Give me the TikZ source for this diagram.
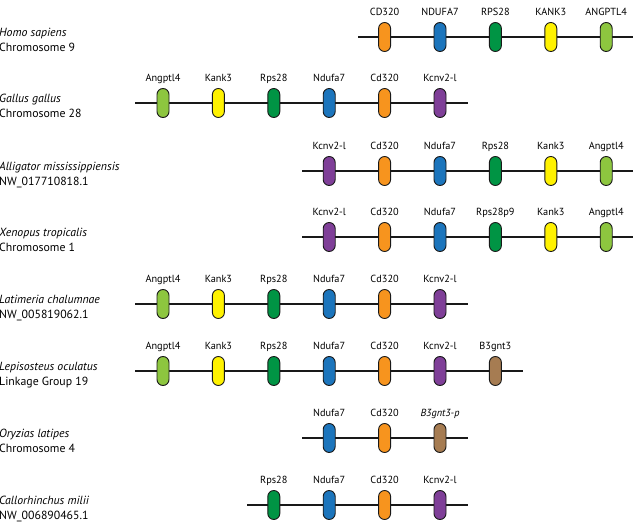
\documentclass[tikz,border=0pt]{standalone}
\usepackage{fontspec}
\setmainfont{PT Sans}
\usetikzlibrary{positioning}
\definecolor{genorange}{RGB}{247,148,30}
\definecolor{genblue}{RGB}{28,117,188}
\definecolor{gengreen}{RGB}{0,148,68}
\definecolor{genyellow}{RGB}{255,242,0}
\definecolor{genlime}{RGB}{141,198,63}
\definecolor{genpurple}{RGB}{127,63,152}
\definecolor{genbrown}{RGB}{166,124,82}
\tikzset{
    chrom line/.style={line width=1.7pt, black!90},
    gene/.style={draw=black!90, line width=.9pt, fill=#1, rounded corners=6pt,
        minimum width=12pt, minimum height=29pt, inner sep=0pt},
    gene label/.style={font=\fontsize{10.3}{12}\selectfont, inner sep=0pt,
        text height=7.5pt, text depth=2.5pt},
    species/.style={anchor=base west, inner sep=0pt, font=\fontsize{11.8}{14}\selectfont},
}
\newcommand{\slotx}[1]{163+55.4*#1}

\begin{document}
\begin{tikzpicture}[x=1pt,y=-1pt]
        \useasboundingbox (0,0) rectangle (633,526);
        % chromosome lines
        \foreach \sp/\y/\from/\to in {hs/37/358/634, gg/103/135/468, am/171/302/634,
            xt/237/302/634, lc/304/135/468, lo/371/135/523, ol/438/302/468, cm/505/247/468}{
            \coordinate (\sp-a) at (\from,\y);
            \coordinate (\sp-b) at (\to,\y);
            \draw[chrom line] (\sp-a) -- (\sp-b);
        }
        % species
        \foreach \sp/\y/\name/\chr in {hs/37/Homo sapiens/Chromosome 9,
            gg/103/Gallus gallus/Chromosome 28,
            am/171/Alligator mississippiensis/NW\_017710818.1,
            xt/237/Xenopus tropicalis/Chromosome 1,
            lc/304/Latimeria chalumnae/NW\_005819062.1,
            lo/371/Lepisosteus oculatus/Linkage Group 19,
            ol/438/Oryzias latipes/Chromosome 4,
            cm/505/Callorhinchus milii/NW\_006890465.1}{
            \node[species] (\sp-name) at (-1,\y) {\itshape\name};
            \node[species] (\sp-chr) at (-1,\y+15) {\chr};
        }
        % genes
        \foreach \s/\c/\g [count=\i] in {4/genorange/CD320, 5/genblue/NDUFA7,
            6/gengreen/RPS28, 7/genyellow/KANK3, 8/genlime/ANGPTL4}{
            \node[gene=\c] (hs\i) at (\slotx{\s},37) {};
            \node[gene label, above=3.5pt of hs\i] (hs\i-l) {\g};
        }
        \foreach \s/\c/\g [count=\i] in {0/genlime/Angptl4, 1/genyellow/Kank3,
            2/gengreen/Rps28, 3/genblue/Ndufa7, 4/genorange/Cd320, 5/genpurple/Kcnv2-l}{
            \node[gene=\c] (gg\i) at (\slotx{\s},103) {};
            \node[gene label, above=3.5pt of gg\i] (gg\i-l) {\g};
        }
        \foreach \s/\c/\g [count=\i] in {3/genpurple/Kcnv2-l, 4/genorange/Cd320,
            5/genblue/Ndufa7, 6/gengreen/Rps28, 7/genyellow/Kank3, 8/genlime/Angptl4}{
            \node[gene=\c] (am\i) at (\slotx{\s},171) {};
            \node[gene label, above=3.5pt of am\i] (am\i-l) {\g};
        }
        \foreach \s/\c/\g [count=\i] in {3/genpurple/Kcnv2-l, 4/genorange/Cd320,
            5/genblue/Ndufa7, 6/gengreen/Rps28p9, 7/genyellow/Kank3, 8/genlime/Angptl4}{
            \node[gene=\c] (xt\i) at (\slotx{\s},237) {};
            \node[gene label, above=3.5pt of xt\i] (xt\i-l) {\g};
        }
        \foreach \s/\c/\g [count=\i] in {0/genlime/Angptl4, 1/genyellow/Kank3,
            2/gengreen/Rps28, 3/genblue/Ndufa7, 4/genorange/Cd320, 5/genpurple/Kcnv2-l}{
            \node[gene=\c] (lc\i) at (\slotx{\s},304) {};
            \node[gene label, above=3.5pt of lc\i] (lc\i-l) {\g};
        }
        \foreach \s/\c/\g [count=\i] in {0/genlime/Angptl4, 1/genyellow/Kank3,
            2/gengreen/Rps28, 3/genblue/Ndufa7, 4/genorange/Cd320, 5/genpurple/Kcnv2-l,
            6/genbrown/B3gnt3}{
            \node[gene=\c] (lo\i) at (\slotx{\s},371) {};
            \node[gene label, above=3.5pt of lo\i] (lo\i-l) {\g};
        }
        \foreach \s/\c/\g [count=\i] in {3/genblue/Ndufa7, 4/genorange/Cd320,
            5/genbrown/{\textit{B3gnt3-p}}}{
            \node[gene=\c] (ol\i) at (\slotx{\s},438) {};
            \node[gene label, above=3.5pt of ol\i] (ol\i-l) {\g};
        }
        \foreach \s/\c/\g [count=\i] in {2/gengreen/Rps28, 3/genblue/Ndufa7,
            4/genorange/Cd320, 5/genpurple/Kcnv2-l}{
            \node[gene=\c] (cm\i) at (\slotx{\s},505) {};
            \node[gene label, above=3.5pt of cm\i] (cm\i-l) {\g};
        }
    \end{tikzpicture}
\end{document}
